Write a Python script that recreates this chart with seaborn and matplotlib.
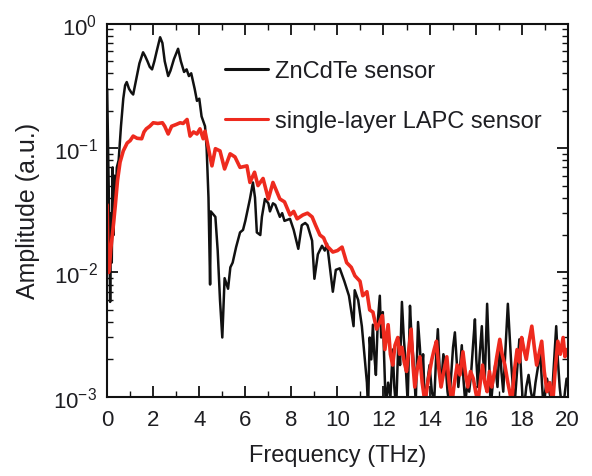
import numpy as np
import pandas as pd
import matplotlib
matplotlib.use("Agg")
import matplotlib.pyplot as plt
import seaborn as sns
from matplotlib.ticker import LogLocator, FixedLocator, MultipleLocator, NullFormatter

# ---------------- data ----------------
zn_freq = [0.0, 0.05, 0.1, 0.13, 0.17, 0.2, 0.24, 0.28, 0.32, 0.36, 0.42, 0.5, 0.6, 0.7,
           0.78, 0.85, 0.95, 1.05, 1.13, 1.25, 1.4, 1.56, 1.65, 1.75, 1.85, 1.95, 2.05,
           2.15, 2.3, 2.4, 2.5, 2.65, 2.75, 2.9, 3.08, 3.2, 3.34, 3.45, 3.55, 3.65, 3.8,
           3.9, 4.0, 4.1, 4.25, 4.32, 4.4, 4.47, 4.5, 4.7, 4.8, 4.9, 5.0, 5.1, 5.25, 5.35,
           5.45, 5.6, 5.77, 5.9, 6.0, 6.1, 6.2, 6.33, 6.42, 6.5, 6.65, 6.72, 6.85, 7.0,
           7.07, 7.2, 7.3, 7.5, 7.6, 7.7, 7.94, 8.1, 8.3, 8.45, 8.6, 8.7, 8.9, 9.0, 9.15,
           9.33, 9.45, 9.55, 9.65, 9.8, 9.93, 10.1, 10.3, 10.5, 10.7, 10.75, 10.9, 11.06,
           11.15, 11.28, 11.33, 11.4, 11.47, 11.54, 11.6, 11.67, 11.75, 11.84, 11.9, 11.97,
           12.03, 12.1, 12.2, 12.3, 12.4, 12.47, 12.55, 12.65, 12.72, 12.8, 12.88, 12.95,
           13.05, 13.15, 13.22, 13.3, 13.4, 13.5, 13.58, 13.65, 13.72, 13.8, 13.9, 14.0,
           14.1, 14.2, 14.28, 14.36, 14.43, 14.5, 14.6, 14.7, 14.78, 14.85, 14.95, 15.02,
           15.1, 15.18, 15.25, 15.32, 15.4, 15.47, 15.55, 15.65, 15.72, 15.8, 15.9, 15.97,
           16.03, 16.1, 16.18, 16.27, 16.33, 16.4, 16.5, 16.58, 16.65, 16.75, 16.85, 16.95,
           17.05, 17.12, 17.2, 17.3, 17.4, 17.48, 17.55, 17.62, 17.7, 17.8, 17.9, 17.98,
           18.05, 18.1, 18.2, 18.3, 18.4, 18.5, 18.6, 18.7, 18.8, 18.88, 18.95, 19.02,
           19.1, 19.2, 19.3, 19.4, 19.5, 19.57, 19.65, 19.72, 19.8, 19.88, 19.95]
zn_amp = [0.30, 0.08, 0.02, 0.0058, 0.03, 0.012, 0.07, 0.02, 0.06, 0.035, 0.07, 0.08, 0.15,
          0.25, 0.32, 0.34, 0.3, 0.28, 0.27, 0.35, 0.48, 0.59, 0.55, 0.5, 0.45, 0.43, 0.5,
          0.6, 0.78, 0.7, 0.5, 0.38, 0.42, 0.52, 0.63, 0.5, 0.41, 0.43, 0.38, 0.4, 0.3,
          0.24, 0.25, 0.18, 0.15, 0.1, 0.04, 0.008, 0.031, 0.028, 0.015, 0.006, 0.003,
          0.009, 0.0074, 0.011, 0.012, 0.016, 0.021, 0.022, 0.026, 0.032, 0.039, 0.053,
          0.04, 0.021, 0.02, 0.028, 0.039, 0.036, 0.031, 0.036, 0.035, 0.028, 0.03, 0.026,
          0.027, 0.022, 0.0155, 0.024, 0.025, 0.024, 0.018, 0.0089, 0.014, 0.0164, 0.015,
          0.017, 0.012, 0.007, 0.0105, 0.0108, 0.0085, 0.0065, 0.0037, 0.0072, 0.006,
          0.0037, 0.0024, 0.0013, 0.0008, 0.003, 0.002, 0.0038, 0.0022, 0.0015, 0.004,
          0.0065, 0.003, 0.0048, 0.002, 0.0008, 0.0013, 0.001, 0.0024, 0.0012, 0.0008,
          0.003, 0.0018, 0.0058, 0.003, 0.002, 0.0009, 0.0054, 0.003, 0.002, 0.0009, 0.004,
          0.0025, 0.0015, 0.0022, 0.0008, 0.0013, 0.0018, 0.0011, 0.0009, 0.002, 0.0035,
          0.0018, 0.0012, 0.0022, 0.0018, 0.0011, 0.0009, 0.0016, 0.0025, 0.0033, 0.0019,
          0.0012, 0.0017, 0.0026, 0.0014, 0.0009, 0.0013, 0.0011, 0.0015, 0.0028, 0.0042,
          0.002, 0.0012, 0.0022, 0.0037, 0.002, 0.0014, 0.0056, 0.0022, 0.0008, 0.0013,
          0.0018, 0.0012, 0.0028, 0.0016, 0.0011, 0.0025, 0.0056, 0.003, 0.0018, 0.0012,
          0.0009, 0.0016, 0.0029, 0.0015, 0.0009, 0.0008, 0.0012, 0.0015, 0.0011, 0.0009,
          0.0013, 0.0017, 0.0024, 0.0013, 0.0008, 0.0011, 0.0014, 0.0011, 0.0009, 0.0018,
          0.0037, 0.002, 0.0012, 0.0009, 0.0008, 0.0011, 0.0014]

lapc_freq = [0.0, 0.03, 0.06, 0.1, 0.15, 0.25, 0.35, 0.45, 0.56, 0.7, 0.87, 1.0, 1.13, 1.3,
             1.5, 1.6, 1.7, 1.85, 2.0, 2.2, 2.4, 2.5, 2.65, 2.8, 3.0, 3.17, 3.3, 3.47, 3.6,
             3.75, 3.9, 4.03, 4.17, 4.25, 4.4, 4.55, 4.7, 4.9, 5.1, 5.34, 5.55, 5.77, 6.07,
             6.2, 6.4, 6.55, 6.77, 7.0, 7.2, 7.5, 7.7, 7.94, 8.1, 8.25, 8.5, 8.7, 8.9, 9.05,
             9.24, 9.4, 9.54, 9.8, 10.0, 10.2, 10.4, 10.6, 10.76, 10.98, 11.1, 11.28, 11.4,
             11.54, 11.7, 11.84, 11.95, 12.06, 12.13, 12.2, 12.3, 12.4, 12.5, 12.62, 12.7,
             12.8, 12.9, 13.0, 13.1, 13.2, 13.28, 13.36, 13.47, 13.58, 13.68, 13.8, 13.95,
             14.1, 14.2, 14.3, 14.4, 14.5, 14.62, 14.75, 14.85, 14.97, 15.08, 15.2, 15.32,
             15.45, 15.55, 15.66, 15.78, 15.9, 16.0, 16.1, 16.2, 16.3, 16.4, 16.5, 16.6,
             16.7, 16.8, 16.92, 17.05, 17.15, 17.27, 17.4, 17.57, 17.68, 17.8, 17.9, 18.0,
             18.1, 18.2, 18.32, 18.44, 18.55, 18.65, 18.75, 18.87, 18.98, 19.1, 19.22, 19.35,
             19.45, 19.57, 19.68, 19.8, 19.88, 19.95]
lapc_amp = [0.035, 0.015, 0.01, 0.011, 0.015, 0.022, 0.034, 0.055, 0.077, 0.095, 0.11, 0.115,
            0.125, 0.12, 0.119, 0.135, 0.143, 0.15, 0.16, 0.158, 0.16, 0.15, 0.13, 0.15,
            0.155, 0.16, 0.158, 0.17, 0.125, 0.135, 0.13, 0.143, 0.119, 0.137, 0.099, 0.072,
            0.099, 0.095, 0.068, 0.09, 0.085, 0.07, 0.072, 0.053, 0.064, 0.05, 0.057, 0.039,
            0.053, 0.039, 0.037, 0.029, 0.031, 0.027, 0.029, 0.03, 0.028, 0.024, 0.02, 0.019,
            0.0164, 0.0146, 0.015, 0.016, 0.012, 0.011, 0.0094, 0.0085, 0.0065, 0.007, 0.005,
            0.0048, 0.0035, 0.004, 0.0045, 0.0024, 0.003, 0.0038, 0.0022, 0.0018, 0.0026,
            0.003, 0.0022, 0.0025, 0.0019, 0.0016, 0.0024, 0.0035, 0.0018, 0.0012, 0.0017,
            0.0021, 0.0013, 0.0009, 0.0014, 0.002, 0.0024, 0.0028, 0.0017, 0.0012, 0.0016,
            0.0021, 0.0013, 0.0009, 0.0013, 0.0018, 0.0015, 0.0023, 0.0016, 0.0012, 0.0016,
            0.0014, 0.0011, 0.0009, 0.0013, 0.0018, 0.0013, 0.0011, 0.0016, 0.0012, 0.0015,
            0.0021, 0.0029, 0.0022, 0.0018, 0.0013, 0.0009, 0.0016, 0.0024, 0.0019, 0.003,
            0.0024, 0.002, 0.0028, 0.0037, 0.0025, 0.0018, 0.0022, 0.0028, 0.0016, 0.0011,
            0.0013, 0.0009, 0.0016, 0.0028, 0.0022, 0.003, 0.0021, 0.0024]

series_names = ["ZnCdTe sensor", "single-layer LAPC sensor"]
x_ticks = [0, 2, 4, 6, 8, 10, 12, 14, 16, 18, 20]
y_ticks = [1e-3, 1e-2, 1e-1, 1e0]
y_tick_labels = ["$\\mathregular{10^{-3}}$", "$\\mathregular{10^{-2}}$",
                 "$\\mathregular{10^{-1}}$", "$\\mathregular{10^{0}}$"]

# ---------------- plotting ----------------
sns.set_style("ticks")
plt.rcParams["font.family"] = ["Liberation Sans", "DejaVu Sans"]
plt.rcParams["mathtext.default"] = "regular"

df_zn = pd.DataFrame({"f": zn_freq, "a": zn_amp})
df_la = pd.DataFrame({"f": lapc_freq, "a": lapc_amp})

fig = plt.figure(figsize=(5.92, 4.77), dpi=100)
ax = fig.add_axes([0.181, 0.166, 0.778, 0.782])

sns.lineplot(data=df_zn, x="f", y="a", ax=ax, color="#111111", lw=1.8,
             estimator=None, sort=False, label=series_names[0])
sns.lineplot(data=df_la, x="f", y="a", ax=ax, color="#ee2a1e", lw=2.6,
             estimator=None, sort=False, label=series_names[1])

ax.set_yscale("log")
ax.set_xlim(0, 20)
ax.set_ylim(1e-3, 1)

ax.xaxis.set_major_locator(FixedLocator(x_ticks))
ax.xaxis.set_minor_locator(MultipleLocator(1))
ax.set_xticklabels([str(t) for t in x_ticks])
ax.yaxis.set_major_locator(FixedLocator(y_ticks))
ax.set_yticklabels(y_tick_labels)
ax.yaxis.set_minor_locator(LogLocator(base=10, subs=np.arange(2, 10)))
ax.yaxis.set_minor_formatter(NullFormatter())

txt = "#1e1e22"
ax.tick_params(which="both", direction="in", top=True, right=True, colors="#111111",
               labelcolor=txt, labelsize=16)
ax.tick_params(which="major", length=8, width=1.3)
ax.tick_params(which="minor", length=4.5, width=1.0)
ax.tick_params(axis="x", pad=9)
ax.tick_params(axis="y", pad=7)
for s in ax.spines.values():
    s.set_linewidth(1.5)
    s.set_color("#111111")

ax.set_xlabel("Frequency (THz)", fontsize=17, color=txt, labelpad=10)
ax.set_ylabel("Amplitude (a.u.)", fontsize=18, color=txt, labelpad=10)

leg = ax.legend(loc="upper left", bbox_to_anchor=(0.256, 0.903), frameon=False,
                fontsize=17, handlelength=1.8, handletextpad=0.3, labelspacing=1.2,
                borderaxespad=0, borderpad=0)
for t in leg.get_texts():
    t.set_color(txt)
for h in leg.get_lines():
    h.set_linewidth(2.2)

fig.savefig("out.png", dpi=100, facecolor="white")
